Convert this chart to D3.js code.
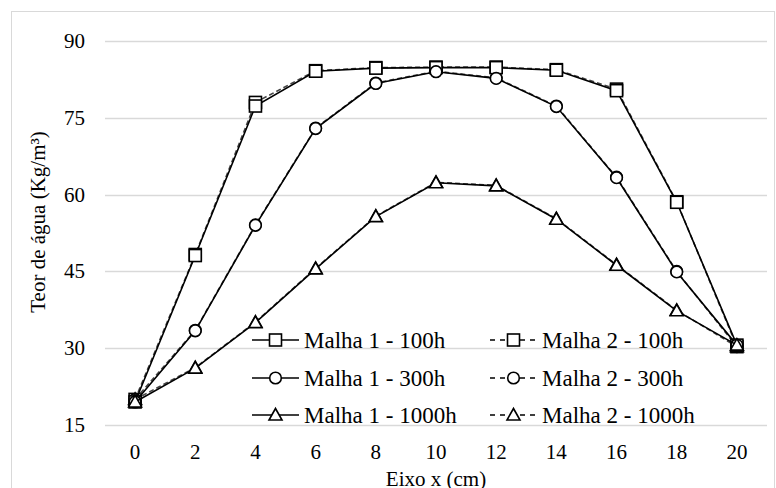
<!DOCTYPE html>
<html><head><meta charset="utf-8"><script src="https://cdn.jsdelivr.net/npm/d3@7"></script></head>
<body style="margin:0">
<script>
// x categories (cm)
const xCats = [0, 2, 4, 6, 8, 10, 12, 14, 16, 18, 20];
const yTicks = [15, 30, 45, 60, 75, 90];

// Malha 1
const m1_100h = [19.5, 48.1, 77.3, 84.1, 84.7, 84.8, 84.8, 84.3, 80.3, 58.5, 30.6];
const m1_300h = [19.5, 33.4, 54.0, 72.9, 81.7, 84.0, 82.7, 77.2, 63.3, 44.9, 30.6];
const m1_1000h = [19.5, 26.1, 35.0, 45.5, 55.7, 62.3, 61.7, 55.2, 46.2, 37.3, 30.6];
// Malha 2
const m2_100h = [20.0, 48.3, 78.0, 84.2, 84.8, 84.9, 84.9, 84.4, 80.6, 58.6, 30.3];
const m2_300h = [20.0, 33.5, 54.1, 73.0, 81.8, 84.1, 82.8, 77.3, 63.4, 45.0, 30.3];
const m2_1000h = [20.0, 26.2, 35.1, 45.6, 55.8, 62.4, 61.8, 55.3, 46.3, 37.4, 30.3];

const series = [
  { name: "Malha 2 - 100h", values: m2_100h, marker: "square", dashed: true },
  { name: "Malha 2 - 300h", values: m2_300h, marker: "circle", dashed: true },
  { name: "Malha 2 - 1000h", values: m2_1000h, marker: "triangle", dashed: true },
  { name: "Malha 1 - 100h", values: m1_100h, marker: "square", dashed: false },
  { name: "Malha 1 - 300h", values: m1_300h, marker: "circle", dashed: false },
  { name: "Malha 1 - 1000h", values: m1_1000h, marker: "triangle", dashed: false }
];

const svg = d3.select("body").append("svg").attr("width", 776).attr("height", 488);

// chart border
svg.append("rect")
  .attr("x", 11.5).attr("y", 11.5)
  .attr("width", 763).attr("height", 490)
  .attr("fill", "none")
  .attr("stroke", "#d9d9d9");

const x = d3.scalePoint().domain(xCats).range([105, 767]).padding(0.5);
const y = d3.scaleLinear().domain([15, 90]).range([425, 41]);

// gridlines
svg.append("g")
  .selectAll("line")
  .data(yTicks)
  .enter().append("line")
  .attr("x1", 105).attr("x2", 767)
  .attr("y1", d => Math.round(y(d)) + 0.5)
  .attr("y2", d => Math.round(y(d)) + 0.5)
  .attr("stroke", "#d9d9d9")
  .attr("stroke-width", 1.3);

// tick labels, drawn from the scales
svg.append("g")
  .selectAll("text")
  .data(yTicks)
  .enter().append("text")
  .attr("x", 85).attr("y", d => y(d) + 7)
  .attr("text-anchor", "end")
  .attr("font-family", "Liberation Serif").attr("font-size", 21)
  .text(d => d);

svg.append("g")
  .selectAll("text")
  .data(xCats)
  .enter().append("text")
  .attr("x", d => x(d)).attr("y", 459)
  .attr("text-anchor", "middle")
  .attr("font-family", "Liberation Serif").attr("font-size", 21)
  .text(d => d);

// axis titles
svg.append("text")
  .attr("x", 436).attr("y", 486)
  .attr("text-anchor", "middle")
  .attr("font-family", "Liberation Serif").attr("font-size", 21)
  .text("Eixo x (cm)");

svg.append("text")
  .attr("transform", "translate(45,222) rotate(-90)")
  .attr("text-anchor", "middle")
  .attr("font-family", "Liberation Serif").attr("font-size", 21)
  .text("Teor de água (Kg/m³)");

// marker drawing
function drawMarker(g, type, cx, cy) {
  if (type === "square") {
    g.append("rect")
      .attr("x", cx - 6).attr("y", cy - 6)
      .attr("width", 12).attr("height", 12)
      .attr("fill", "#fff").attr("stroke", "#000").attr("stroke-width", 1.6);
  } else if (type === "circle") {
    g.append("circle")
      .attr("cx", cx).attr("cy", cy).attr("r", 5.8)
      .attr("fill", "#fff").attr("stroke", "#000").attr("stroke-width", 1.6);
  } else {
    g.append("path")
      .attr("d", `M${cx},${cy - 6.5}L${cx + 6.5},${cy + 5}L${cx - 6.5},${cy + 5}Z`)
      .attr("fill", "#fff").attr("stroke", "#000").attr("stroke-width", 1.6);
  }
}

const line = d3.line()
  .x((d, i) => x(xCats[i]))
  .y(d => y(d));

series.forEach(s => {
  const g = svg.append("g");
  g.append("path")
    .datum(s.values)
    .attr("d", line)
    .attr("fill", "none")
    .attr("stroke", s.dashed ? "#444" : "#000")
    .attr("stroke-width", 1.6)
    .attr("stroke-dasharray", s.dashed ? "5,3" : null);
  s.values.forEach((v, i) => drawMarker(g, s.marker, x(xCats[i]), y(v)));
});

// legend
const legendRows = [340, 378, 415];
const legendCols = [252, 490];
const legendItems = [
  { name: "Malha 1 - 100h", marker: "square", dashed: false, col: 0, row: 0 },
  { name: "Malha 2 - 100h", marker: "square", dashed: true, col: 1, row: 0 },
  { name: "Malha 1 - 300h", marker: "circle", dashed: false, col: 0, row: 1 },
  { name: "Malha 2 - 300h", marker: "circle", dashed: true, col: 1, row: 1 },
  { name: "Malha 1 - 1000h", marker: "triangle", dashed: false, col: 0, row: 2 },
  { name: "Malha 2 - 1000h", marker: "triangle", dashed: true, col: 1, row: 2 }
];

legendItems.forEach(item => {
  const lx = legendCols[item.col];
  const ly = legendRows[item.row];
  const g = svg.append("g");
  g.append("line")
    .attr("x1", lx).attr("x2", lx + 47)
    .attr("y1", ly).attr("y2", ly)
    .attr("stroke", "#000").attr("stroke-width", 1.6)
    .attr("stroke-dasharray", item.dashed ? "5,5" : null);
  drawMarker(g, item.marker, lx + 23.5, ly);
  g.append("text")
    .attr("x", lx + 52).attr("y", ly + 8)
    .attr("font-family", "Liberation Serif").attr("font-size", 23)
    .text(item.name);
});
</script>
</body>
</html>
